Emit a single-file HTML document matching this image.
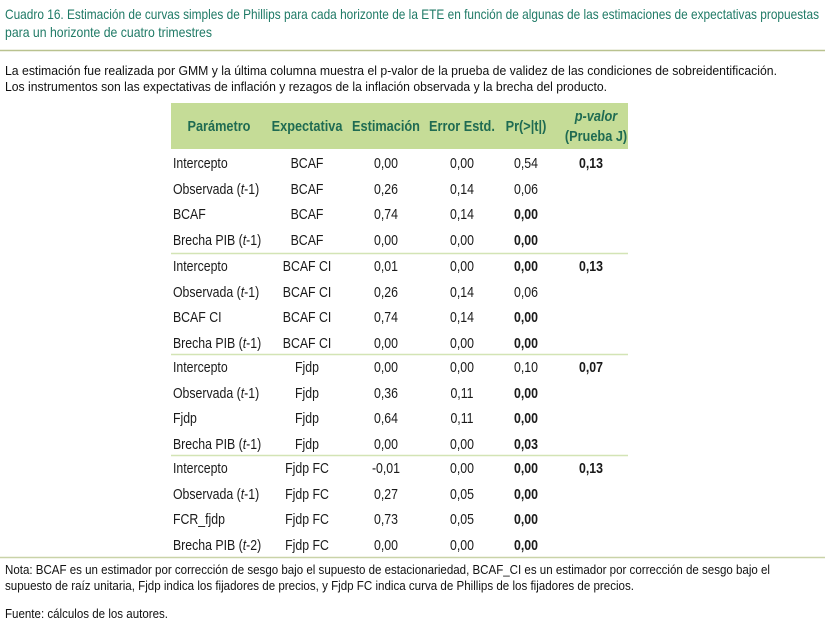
<!DOCTYPE html>
<html><head><meta charset="utf-8"><style>
html,body{margin:0;padding:0;background:#fff;}
svg{display:block;}
text{font-family:"Liberation Sans Narrow","Liberation Sans",sans-serif;}
.t{font-size:14px;fill:#1f7a66;}
.b{font-size:12.5px;fill:#111;}
.c{font-size:14.5px;fill:#1a1a1a;}
.h{font-size:15px;fill:#1f6b52;font-weight:bold;}
.bd{font-weight:bold;}
</style></head><body>
<svg width="825" height="624" xmlns="http://www.w3.org/2000/svg">
<text class="t" x="5" y="19" textLength="814" lengthAdjust="spacingAndGlyphs">Cuadro 16. Estimación de curvas simples de Phillips para cada horizonte de la ETE en función de algunas de las estimaciones de expectativas propuestas</text>
<text class="t" x="5" y="37" textLength="207" lengthAdjust="spacingAndGlyphs">para un horizonte de cuatro trimestres</text>
<line x1="0" y1="50.5" x2="825" y2="50.5" stroke="#b9c28f" stroke-width="1.5"/>
<text class="b" x="5" y="75" textLength="772" lengthAdjust="spacingAndGlyphs">La estimación fue realizada por GMM y la última columna muestra el p-valor de la prueba de validez de las condiciones de sobreidentificación.</text>
<text class="b" x="5" y="91" textLength="602" lengthAdjust="spacingAndGlyphs">Los instrumentos son las expectativas de inflación y rezagos de la inflación observada y la brecha del producto.</text>
<rect x="171" y="103" width="457" height="46" fill="#c5dc97"/>
<g transform="matrix(0.85 0 0 1 0 0)">
<g class="h" text-anchor="middle">
<text x="257.6" y="131">Parámetro</text>
<text x="361.2" y="131">Expectativa</text>
<text x="454.1" y="131">Estimación</text>
<text x="543.5" y="131">Error Estd.</text>
<text x="618.8" y="131">Pr(&gt;|t|)</text>
<text x="701.2" y="121" font-style="italic">p-valor</text>
<text x="701.2" y="141">(Prueba J)</text>
</g>
<g class="c">
<text x="203.5" y="168">Intercepto</text>
<text x="203.5" y="194">Observada (<tspan font-style="italic">t</tspan>-1)</text>
<text x="203.5" y="219">BCAF</text>
<text x="203.5" y="245">Brecha PIB (<tspan font-style="italic">t</tspan>-1)</text>
<text x="203.5" y="271">Intercepto</text>
<text x="203.5" y="297">Observada (<tspan font-style="italic">t</tspan>-1)</text>
<text x="203.5" y="322">BCAF CI</text>
<text x="203.5" y="348">Brecha PIB (<tspan font-style="italic">t</tspan>-1)</text>
<text x="203.5" y="372">Intercepto</text>
<text x="203.5" y="398">Observada (<tspan font-style="italic">t</tspan>-1)</text>
<text x="203.5" y="423">Fjdp</text>
<text x="203.5" y="449">Brecha PIB (<tspan font-style="italic">t</tspan>-1)</text>
<text x="203.5" y="473">Intercepto</text>
<text x="203.5" y="499">Observada (<tspan font-style="italic">t</tspan>-1)</text>
<text x="203.5" y="524">FCR_fjdp</text>
<text x="203.5" y="550">Brecha PIB (<tspan font-style="italic">t</tspan>-2)</text>
</g>
<g class="c" text-anchor="middle">
<text x="361.2" y="168">BCAF</text><text x="454.1" y="168">0,00</text><text x="543.5" y="168">0,00</text><text x="618.8" y="168">0,54</text><text x="695.3" y="168" class="bd">0,13</text>
<text x="361.2" y="194">BCAF</text><text x="454.1" y="194">0,26</text><text x="543.5" y="194">0,14</text><text x="618.8" y="194">0,06</text>
<text x="361.2" y="219">BCAF</text><text x="454.1" y="219">0,74</text><text x="543.5" y="219">0,14</text><text x="618.8" y="219" class="bd">0,00</text>
<text x="361.2" y="245">BCAF</text><text x="454.1" y="245">0,00</text><text x="543.5" y="245">0,00</text><text x="618.8" y="245" class="bd">0,00</text>

<text x="361.2" y="271">BCAF CI</text><text x="454.1" y="271">0,01</text><text x="543.5" y="271">0,00</text><text x="618.8" y="271" class="bd">0,00</text><text x="695.3" y="271" class="bd">0,13</text>
<text x="361.2" y="297">BCAF CI</text><text x="454.1" y="297">0,26</text><text x="543.5" y="297">0,14</text><text x="618.8" y="297">0,06</text>
<text x="361.2" y="322">BCAF CI</text><text x="454.1" y="322">0,74</text><text x="543.5" y="322">0,14</text><text x="618.8" y="322" class="bd">0,00</text>
<text x="361.2" y="348">BCAF CI</text><text x="454.1" y="348">0,00</text><text x="543.5" y="348">0,00</text><text x="618.8" y="348" class="bd">0,00</text>

<text x="361.2" y="372">Fjdp</text><text x="454.1" y="372">0,00</text><text x="543.5" y="372">0,00</text><text x="618.8" y="372">0,10</text><text x="695.3" y="372" class="bd">0,07</text>
<text x="361.2" y="398">Fjdp</text><text x="454.1" y="398">0,36</text><text x="543.5" y="398">0,11</text><text x="618.8" y="398" class="bd">0,00</text>
<text x="361.2" y="423">Fjdp</text><text x="454.1" y="423">0,64</text><text x="543.5" y="423">0,11</text><text x="618.8" y="423" class="bd">0,00</text>
<text x="361.2" y="449">Fjdp</text><text x="454.1" y="449">0,00</text><text x="543.5" y="449">0,00</text><text x="618.8" y="449" class="bd">0,03</text>

<text x="361.2" y="473">Fjdp FC</text><text x="454.1" y="473">-0,01</text><text x="543.5" y="473">0,00</text><text x="618.8" y="473" class="bd">0,00</text><text x="695.3" y="473" class="bd">0,13</text>
<text x="361.2" y="499">Fjdp FC</text><text x="454.1" y="499">0,27</text><text x="543.5" y="499">0,05</text><text x="618.8" y="499" class="bd">0,00</text>
<text x="361.2" y="524">Fjdp FC</text><text x="454.1" y="524">0,73</text><text x="543.5" y="524">0,05</text><text x="618.8" y="524" class="bd">0,00</text>
<text x="361.2" y="550">Fjdp FC</text><text x="454.1" y="550">0,00</text><text x="543.5" y="550">0,00</text><text x="618.8" y="550" class="bd">0,00</text>
</g>
</g>
<g stroke="#d3e4b5" stroke-width="1.5">
<line x1="171" y1="253.5" x2="628" y2="253.5"/>
<line x1="171" y1="354.5" x2="628" y2="354.5"/>
<line x1="171" y1="455.5" x2="628" y2="455.5"/>
</g>
<line x1="0" y1="557.5" x2="825" y2="557.5" stroke="#c9d3a8" stroke-width="1.5"/>
<text class="b" x="5" y="574" textLength="765" lengthAdjust="spacingAndGlyphs">Nota: BCAF es un estimador por corrección de sesgo bajo el supuesto de estacionariedad, BCAF_CI es un estimador por corrección de sesgo bajo el</text>
<text class="b" x="5" y="590" textLength="629" lengthAdjust="spacingAndGlyphs">supuesto de raíz unitaria, Fjdp indica los fijadores de precios, y Fjdp FC indica curva de Phillips de los fijadores de precios.</text>
<text class="b" x="5" y="618" textLength="163" lengthAdjust="spacingAndGlyphs">Fuente: cálculos de los autores.</text>
</svg>
</body></html>
